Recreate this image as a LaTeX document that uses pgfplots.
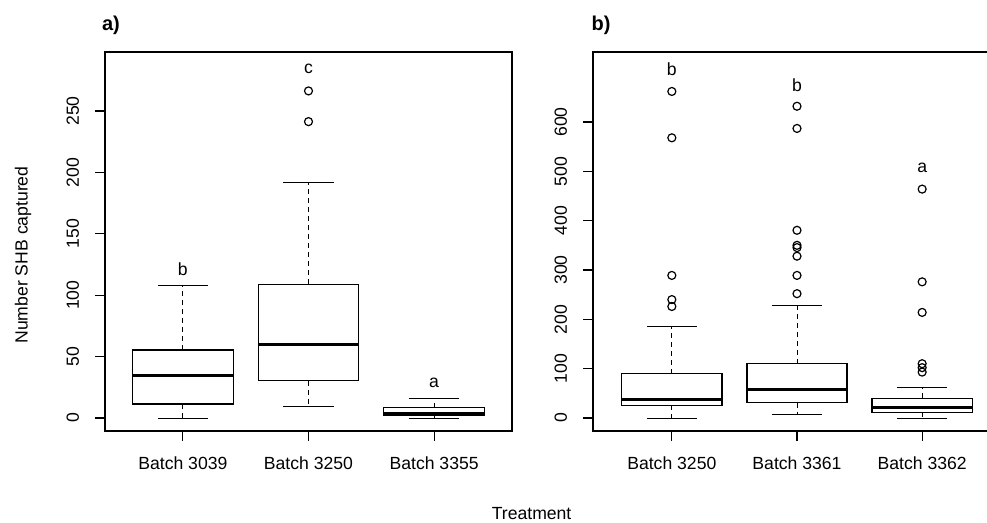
\documentclass[border=0pt]{standalone}
\usepackage{fontspec}
\setmainfont{Liberation Sans}
\usepackage{pgfplots}
\pgfplotsset{compat=1.18}
\usepgfplotslibrary{statistics}

% R style whisker: dashed stem, solid cap
\pgfplotsset{
  boxplot/draw/whisker/.code 2 args={
    \draw[black, line width=0.5pt, dash pattern=on 2.5pt off 2pt]
      (boxplot cs:#1) -- (boxplot cs:#2);
    \draw[black, line width=0.45pt]
      (boxplot whisker cs:#2,0) -- (boxplot whisker cs:#2,1);
  },
}

% 1 px of the 987x523 reference = 0.5pt
\pgfplotsset{
  rbox/.style={
    scale only axis, width=203.5pt, height=189.5pt,
    axis line style={line width=0.6pt, black},
    tick align=outside, major tick length=5pt,
    tick style={line width=0.6pt, black},
    xtick pos=left, ytick pos=left,
    xtick={1,2,3},
    /pgf/number format/assume math mode=true,
    ticklabel style={font=\fontsize{8.8}{10}\selectfont},
    xticklabel style={anchor=north, inner xsep=0pt, inner ysep=7.8pt},
    yticklabel style={rotate=90, anchor=south, inner xsep=0pt, inner ysep=7.8pt},
    clip=false,
    boxplot/draw direction=y,
    boxplot/box extend=0.8,
    boxplot/whisker extend=0.4,
    boxplot/every box/.style={draw=black, fill=white, line width=0.6pt},
    boxplot/every median/.style={line width=1.6pt},
  },
  rbp/.style={black, mark=o, mark size=2pt, mark options={solid, line width=0.6pt}},
}
\tikzset{letter/.style={font=\fontsize{8.8}{10}\selectfont}}

\begin{document}
\begin{tikzpicture}
\useasboundingbox (0,0) rectangle (493.5pt,261.5pt);

% panel a
\begin{axis}[rbox, at={(52.5pt,46pt)}, anchor=south west,
    xmin=0.38, xmax=3.62, ymin=-10.6, ymax=298,
    ytick={0,50,...,250},
    xticklabels={Batch 3039, Batch 3250, Batch 3355}]
  \addplot[rbp, boxplot prepared={draw position=1,
      lower whisker=0, lower quartile=11.4, median=34.4,
      upper quartile=55.4, upper whisker=107.5}] coordinates {};
  \addplot[rbp, boxplot prepared={draw position=2,
      lower whisker=9.2, lower quartile=30.4, median=60,
      upper quartile=109, upper whisker=191.4}] coordinates {(0,266.3) (0,241.3)};
  \addplot[rbp, boxplot prepared={draw position=3,
      lower whisker=0, lower quartile=2.4, median=3.8,
      upper quartile=8.4, upper whisker=15.5}] coordinates {};
  \node[letter] at (axis cs:1,121) {b};
  \node[letter] at (axis cs:2,284) {c};
  \node[letter] at (axis cs:3,28.7) {a};
\end{axis}

% panel b
\begin{axis}[rbox, at={(296.5pt,46pt)}, anchor=south west,
    width=204pt,
    xmin=0.37, xmax=3.63, ymin=-26.4, ymax=742,
    ytick={0,100,...,600},
    xticklabels={Batch 3250, Batch 3361, Batch 3362}]
  \addplot[rbp, boxplot prepared={draw position=1,
      lower whisker=0, lower quartile=25.7, median=37.2,
      upper quartile=90, upper whisker=185}]
    coordinates {(0,662) (0,568) (0,289) (0,240) (0,226)};
  \addplot[rbp, boxplot prepared={draw position=2,
      lower whisker=8, lower quartile=31.2, median=57.5,
      upper quartile=110, upper whisker=228}]
    coordinates {(0,632) (0,587) (0,380.5) (0,350) (0,345.4) (0,328) (0,289) (0,252)};
  \addplot[rbp, boxplot prepared={draw position=3,
      lower whisker=0, lower quartile=11.5, median=21,
      upper quartile=40, upper whisker=61.6}]
    coordinates {(0,464) (0,276) (0,214) (0,110) (0,102) (0,93)};
  \node[letter] at (axis cs:1,708) {b};
  \node[letter] at (axis cs:2,675) {b};
  \node[letter] at (axis cs:3,508) {a};
\end{axis}

\node[font=\fontsize{10}{12}\selectfont\bfseries] at (55.5pt,249pt) {a)};
\node[font=\fontsize{10}{12}\selectfont\bfseries] at (300.5pt,249pt) {b)};
\node[rotate=90, letter] at (11.5pt,134pt) {Number SHB captured};
\node[letter] at (265.8pt,4.5pt) {Treatment};
\end{tikzpicture}
\end{document}
